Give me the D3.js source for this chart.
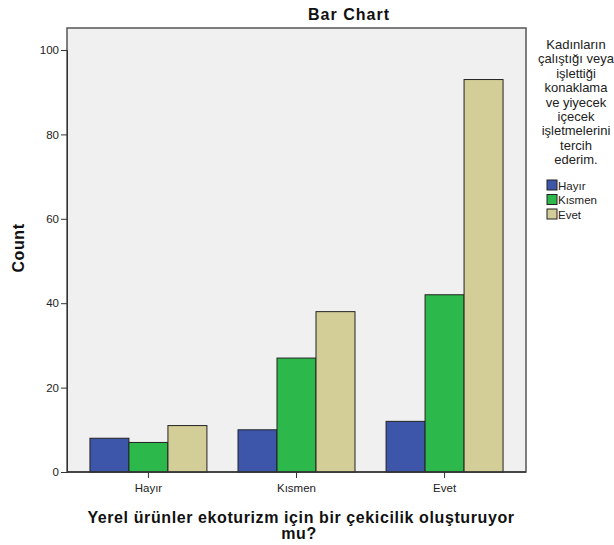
<!DOCTYPE html>
<html><head><meta charset="utf-8">
<script src="https://cdn.jsdelivr.net/npm/d3@7"></script>
<style>body{margin:0;background:#fff;}svg{display:block;font-family:"Liberation Sans",Arial,sans-serif;}</style>
</head><body><svg id="c" width="614" height="545"></svg>
<script>
const categories = ["Hayır", "Kısmen", "Evet"];
const seriesNames = ["Hayır", "Kısmen", "Evet"];
const valuesHayir = [8, 10, 12];
const valuesKismen = [7, 27, 42];
const valuesEvet = [11, 38, 93];
const yTicks = [0, 20, 40, 60, 80, 100];
const colors = ["#3d56aa", "#2db84b", "#d3ce97"];
const legendTitle = ["Kadınların", "çalıştığı veya", "işlettiği", "konaklama", "ve yiyecek", "içecek", "işletmelerini", "tercih", "ederim."];
const series = [valuesHayir, valuesKismen, valuesEvet];

const svg = d3.select("#c");
const L = 67, R = 526, T = 28, B = 472;
const x = d3.scaleBand().domain(categories).range([L, R]).paddingInner(0.21).paddingOuter(0.155);
const xs = d3.scaleBand().domain(seriesNames).range([0, x.bandwidth()]);
const y = d3.scaleLinear().domain([0, 100]).range([B, 50]);

svg.append("rect").attr("x", L).attr("y", T).attr("width", R - L).attr("height", B - T)
  .attr("fill", "#f0f0f0").attr("stroke", "#555").attr("stroke-width", 1.5);

const g = svg.append("g");
categories.forEach((c, ci) => {
  seriesNames.forEach((s, si) => {
    const v = series[si][ci];
    g.append("rect").attr("x", x(c) + xs(s)).attr("y", y(v))
      .attr("width", xs.bandwidth()).attr("height", y(0) - y(v))
      .attr("fill", colors[si]).attr("stroke", "#222").attr("stroke-width", 1);
  });
});

const ya = svg.append("g").attr("transform", `translate(${L},0)`)
  .call(d3.axisLeft(y).tickValues(yTicks).tickSize(6).tickPadding(2));
ya.select(".domain").attr("stroke", "#333");
ya.selectAll("line").attr("stroke", "#333");
ya.selectAll("text").attr("font-size", 11.5).attr("fill", "#222").attr("font-family", "Liberation Sans, Arial, sans-serif");

const xa = svg.append("g").attr("transform", `translate(0,${B})`)
  .call(d3.axisBottom(x).tickSize(6).tickPadding(6));
xa.select(".domain").remove();
xa.selectAll("line").attr("stroke", "#333");
xa.selectAll("text").attr("font-size", 11.5).attr("fill", "#222").attr("font-family", "Liberation Sans, Arial, sans-serif");

svg.append("line").attr("x1", L).attr("x2", R).attr("y1", B).attr("y2", B).attr("stroke", "#333").attr("stroke-width", 1.5);

svg.append("text").attr("x", 349).attr("y", 20).attr("text-anchor", "middle")
  .attr("font-size", 16).attr("letter-spacing", 1).attr("font-weight", "bold").attr("fill", "#111").text("Bar Chart");

svg.append("text").attr("transform", "translate(24,248) rotate(-90)").attr("text-anchor", "middle")
  .attr("font-size", 16).attr("letter-spacing", 0.6).attr("font-weight", "bold").attr("fill", "#111").text("Count");

const xt = svg.append("text").attr("text-anchor", "middle").attr("font-size", 16).attr("letter-spacing", 0.6)
  .attr("font-weight", "bold").attr("fill", "#111");
xt.append("tspan").attr("x", 301).attr("y", 523).text("Yerel ürünler ekoturizm için bir çekicilik oluşturuyor");
xt.append("tspan").attr("x", 299).attr("y", 539).text("mu?");

const lt = svg.append("text").attr("text-anchor", "middle").attr("font-size", 13).attr("fill", "#222");
legendTitle.forEach((t, i) => lt.append("tspan").attr("x", 576).attr("y", 49 + i * 14.4).text(t));

seriesNames.forEach((s, i) => {
  const yy = 180 + i * 14.5;
  svg.append("rect").attr("x", 547).attr("y", yy).attr("width", 10).attr("height", 10)
    .attr("fill", colors[i]).attr("stroke", "#222").attr("stroke-width", 1);
  svg.append("text").attr("x", 558).attr("y", yy + 9.5).attr("font-size", 11.5).attr("fill", "#222").text(s);
});
</script></body></html>
